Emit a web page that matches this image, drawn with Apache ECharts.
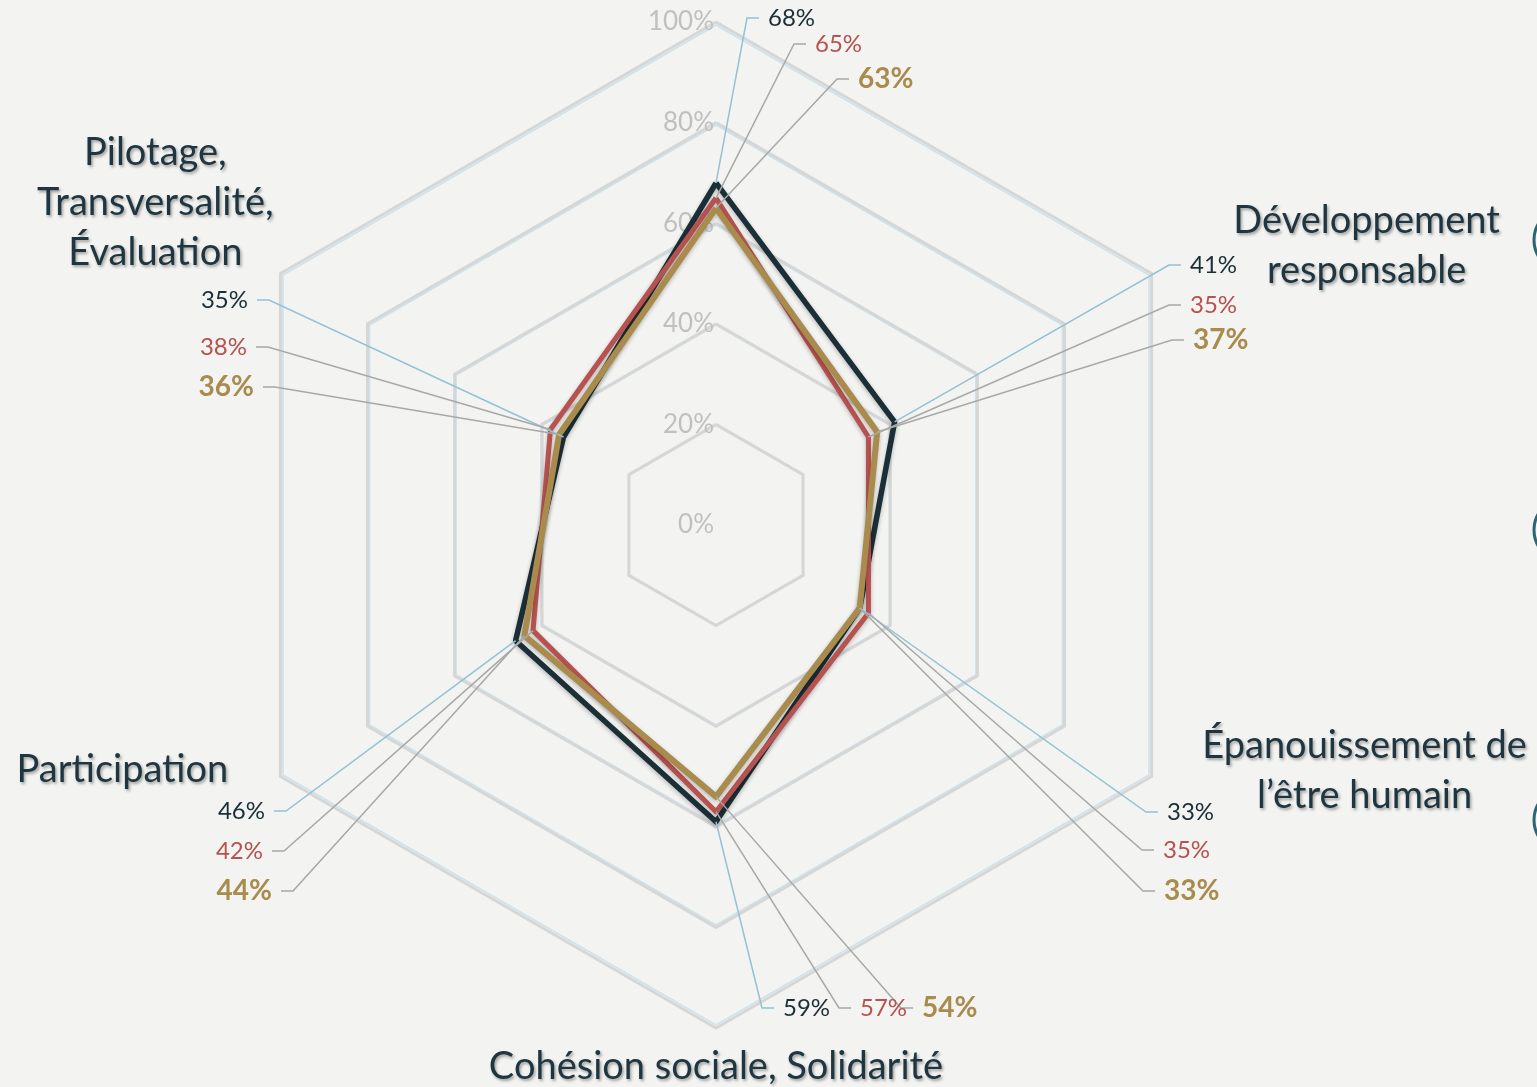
<!DOCTYPE html>
<html>
<head>
<meta charset="utf-8">
<script src="https://cdn.jsdelivr.net/npm/echarts@6/dist/echarts.min.js"></script>
<style>
html, body { margin: 0; padding: 0; background: #f3f3f1; }
#radarChart { width: 1537px; height: 1087px; }
</style>
</head>
<body>
<div id="radarChart"></div>
<script>
// axes go counter-clockwise, starting at the top
var axisNames = ['', 'Pilotage,\nTransversalité,\nÉvaluation', 'Participation', 'Cohésion sociale, Solidarité', 'Épanouissement de\nl’être humain', 'Développement\nresponsable'];
var tickLabels = ['0%', '20%', '40%', '60%', '80%', '100%'];
var seriesNames = ['Série 1', 'Série 2', 'Série 3'];
var navyValues = [68, 35, 46, 59, 33, 41];
var redValues = [65, 38, 42, 57, 35, 35];
var goldValues = [63, 36, 44, 54, 33, 37];

var colors = ['#1b2f37', '#b6524f', '#a88b4d'];
var leaderColors = ['#93c2d4', '#a8a8a8', '#a8a8a8'];
var FONT = 'Lato, "Open Sans", sans-serif';

// where each value label sits: [x, y, side of the text]
var labelSpots = [
    [[768, 18, 'left'], [248, 300, 'right'], [265, 811, 'right'], [783, 1008, 'left'], [1167, 812, 'left'], [1190, 265, 'left']],
    [[815, 44, 'left'], [247, 347, 'right'], [263, 851, 'right'], [860, 1008, 'left'], [1163, 850, 'left'], [1190, 305, 'left']],
    [[858, 79, 'left'], [254, 387, 'right'], [272, 891, 'right'], [922, 1008, 'left'], [1164, 891, 'left'], [1193, 340, 'left']]
];
// how each axis name is moved away from its vertex
var nameVAlign = ['middle', 'bottom', 'bottom', 'top', 'bottom', 'bottom'];
var namePads = [[0, 0, 0, 0], [0, 250, -4, 0], [0, 316, -18, 0], [14, 0, 0, 0], [0, 0, -44, 426], [0, 0, -22, 430]];

var myChart = echarts.init(document.getElementById('radarChart'));

var mainIndicators = axisNames.map(function (n, i) {
    return {
        name: n, min: 0, max: 100,
        nameTextStyle: { align: 'center', verticalAlign: nameVAlign[i], padding: namePads[i] },
        axisLabel: { show: i === 0 }
    };
});
var ghostIndicators = axisNames.map(function () { return { name: '', min: 0, max: 100 }; });

var nameStyle = {
    color: '#1f3640', fontSize: 38, fontFamily: FONT, lineHeight: 50,
    textShadowColor: 'rgba(0,0,0,0.35)', textShadowBlur: 3, textShadowOffsetX: 1.5, textShadowOffsetY: 2
};

function radarSeries(values, idx, width) {
    return {
        type: 'radar',
        radarIndex: 0,
        symbol: 'none',
        z: 3 + idx,
        lineStyle: {
            color: colors[idx], width: width,
            shadowColor: 'rgba(0,0,0,0.25)', shadowBlur: 4, shadowOffsetY: 2
        },
        itemStyle: { color: colors[idx] },
        data: [{ value: values, name: seriesNames[idx] }]
    };
}

var option = {
    backgroundColor: '#f3f3f1',
    animation: false,
    radar: [
        {
            center: [716, 525],
            radius: 503,
            startAngle: 90,
            splitNumber: 5,
            shape: 'polygon',
            z: 2,
            axisNameGap: 0,
            axisName: nameStyle,
            indicator: mainIndicators,
            axisLine: { show: false },
            axisTick: { show: false },
            axisLabel: {
                show: true, margin: 2, color: '#c0c0c0', fontSize: 26, fontFamily: FONT,
                formatter: function (v) { return tickLabels[Math.round(v / 20)]; }
            },
            splitArea: { show: false },
            splitLine: { lineStyle: { color: '#d6d6d6', width: 3 } }
        },
        {
            center: [716, 525],
            radius: 500,
            startAngle: 90,
            splitNumber: 5,
            shape: 'polygon',
            z: 1,
            axisName: { show: false },
            indicator: ghostIndicators,
            axisLine: { show: false },
            axisTick: { show: false },
            axisLabel: { show: false },
            splitArea: { show: false },
            splitLine: { lineStyle: { color: '#cde2eb', width: 1.5 } }
        }
    ],
    series: [
        radarSeries(navyValues, 0, 5.5),
        radarSeries(redValues, 1, 5),
        radarSeries(goldValues, 2, 6)
    ]
};
myChart.setOption(option);

// value labels with their leader lines, anchored on the points the radar computed
var radar = myChart.getModel().getComponent('radar', 0).coordinateSystem;
var allValues = [navyValues, redValues, goldValues];
var graphics = [];
allValues.forEach(function (values, s) {
    values.forEach(function (v, i) {
        var pt = radar.dataToPoint(v, i);
        var spot = labelSpots[s][i];
        var dir = spot[2] === 'left' ? -1 : 1;
        var end = [spot[0] + dir * 9, spot[1]];
        var bend = [spot[0] + dir * 21, spot[1]];
        graphics.push({
            type: 'polyline', z: 10,
            shape: { points: [pt, bend, end] },
            style: { stroke: leaderColors[s], lineWidth: 1.5, fill: null }
        });
        graphics.push({
            type: 'text', z: 11,
            style: {
                text: v + '%', x: spot[0], y: spot[1],
                align: spot[2], verticalAlign: 'middle',
                fill: colors[s],
                font: (s === 2 ? 'bold 28px ' : '24px ') + FONT
            }
        });
    });
});
// bits of neighbouring shapes cut by the right edge
[240, 530, 820].forEach(function (y) {
    graphics.push({
        type: 'circle', z: 1,
        shape: { cx: 1566, cy: y, r: 32 },
        style: { stroke: '#2c6670', lineWidth: 3, fill: null }
    });
});
myChart.setOption({ graphic: graphics });
</script>
</body>
</html>
